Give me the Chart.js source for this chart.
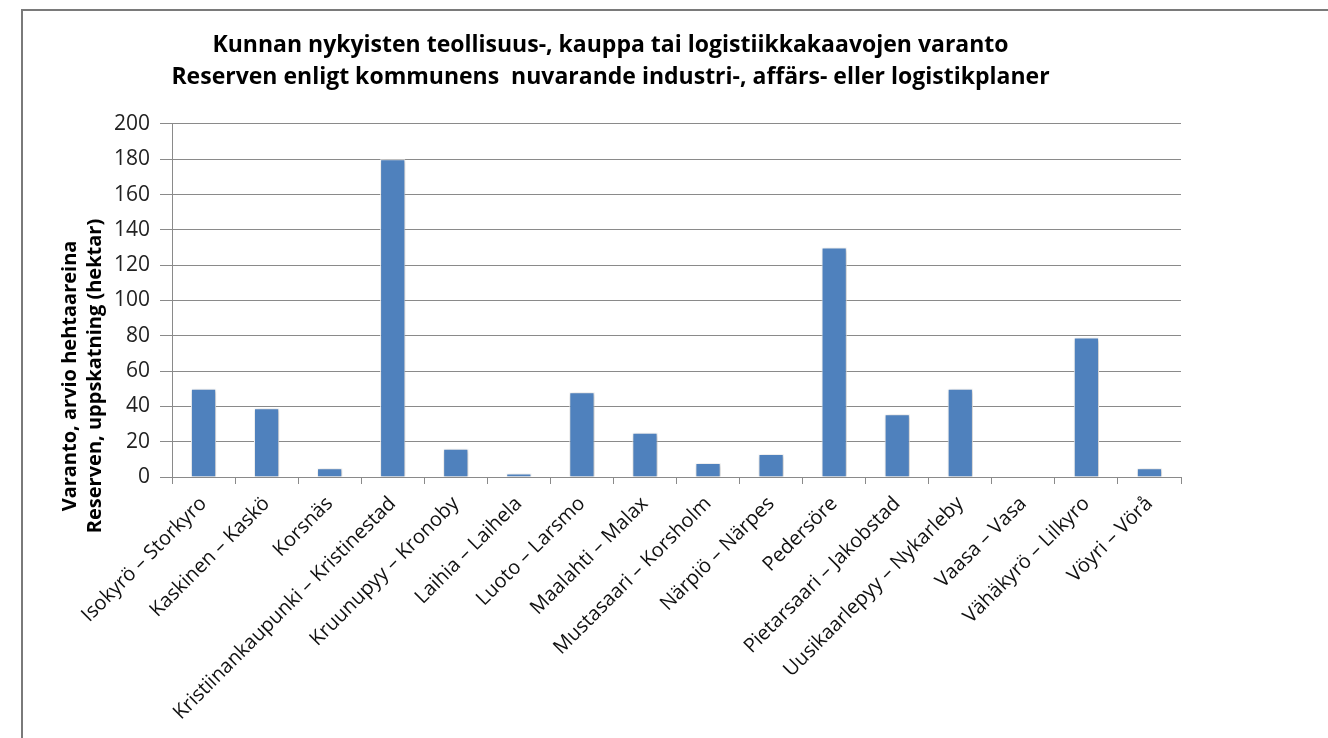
<!DOCTYPE html>
<html>
<head>
<meta charset="utf-8">
<script src="https://cdn.jsdelivr.net/npm/chart.js@4/dist/chart.umd.min.js"></script>
<style>
html,body{margin:0;padding:0;background:#fff;}
#wrap{position:absolute;left:0;top:0;width:1328px;height:738px;}
</style>
</head>
<body>
<div id="wrap"><canvas id="c" width="1328" height="738"></canvas></div>
<script>
const titleLines = [
  "Kunnan nykyisten teollisuus-, kauppa tai logistiikkakaavojen varanto",
  "Reserven enligt kommunens  nuvarande industri-, affärs- eller logistikplaner"
];
const yTitleLines = ["Varanto, arvio hehtaareina", "Reserven, uppskatning (hektar)"];
const categories = [
  "Isokyrö – Storkyro", "Kaskinen – Kaskö", "Korsnäs", "Kristiinankaupunki – Kristinestad",
  "Kruunupyy – Kronoby", "Laihia – Laihela", "Luoto – Larsmo", "Maalahti – Malax",
  "Mustasaari – Korsholm", "Närpiö – Närpes", "Pedersöre", "Pietarsaari – Jakobstad",
  "Uusikaarlepyy – Nykarleby", "Vaasa – Vasa", "Vähäkyrö – Lilkyro", "Vöyri – Vörå"
];
const reserveValues = [50, 39, 5, 180, 16, 2, 48, 25, 8, 13, 130, 35.5, 50, 0, 79, 5];
const yMin = 0, yMax = 200, yStep = 20;

const FONT = "'Open Sans', 'DejaVu Sans', sans-serif";

const framePlugin = {
  id: 'frame',
  beforeDraw(chart) {
    const ctx = chart.ctx;
    ctx.save();
    ctx.fillStyle = '#fff';
    ctx.fillRect(0, 0, chart.width, chart.height);
    ctx.strokeStyle = '#7a7a7a';
    ctx.lineWidth = 2;
    ctx.beginPath();
    ctx.moveTo(22, chart.height + 5);
    ctx.lineTo(22, 10);
    ctx.lineTo(chart.width + 5, 10);
    ctx.stroke();
    ctx.restore();
  }
};
const shadowPlugin = {
  id: 'barShadow',
  beforeDatasetsDraw(chart) {
    const ctx = chart.ctx;
    ctx.save();
    ctx.shadowColor = 'rgba(0,0,0,0.28)';
    ctx.shadowBlur = 4;
    ctx.shadowOffsetX = 1;
    ctx.shadowOffsetY = 1;
  },
  afterDatasetsDraw(chart) {
    chart.ctx.restore();
  }
};
// Y-axis title, placed like the original (centred lower than the plot area)
const yTitlePlugin = {
  id: 'yTitle',
  afterDraw(chart) {
    const ctx = chart.ctx;
    const lineH = 25;
    const firstX = chart.scales.y.left + 30;
    const centerY = chart.chartArea.bottom - 101;
    ctx.save();
    ctx.fillStyle = '#000';
    ctx.font = "bold 20px " + FONT;
    ctx.textAlign = 'center';
    ctx.textBaseline = 'middle';
    yTitleLines.forEach((line, i) => {
      ctx.save();
      ctx.translate(firstX + i * lineH, centerY);
      ctx.rotate(-Math.PI / 2);
      ctx.fillText(line, 0, 0);
      ctx.restore();
    });
    ctx.restore();
  }
};

new Chart(document.getElementById('c'), {
  type: 'bar',
  data: {
    labels: categories,
    datasets: [{
      data: reserveValues,
      backgroundColor: '#4F81BD',
      borderColor: '#ffffff',
      borderWidth: 1,
      barPercentage: 0.4,
      categoryPercentage: 1.0
    }]
  },
  plugins: [framePlugin, shadowPlugin, yTitlePlugin],
  options: {
    responsive: false,
    animation: false,
    devicePixelRatio: 1,
    layout: { padding: { left: 40, right: 147, top: 0, bottom: 0 } },
    plugins: {
      legend: { display: false },
      tooltip: { enabled: false },
      title: {
        display: true,
        text: titleLines,
        color: '#000',
        font: { family: FONT, size: 23, weight: 'bold', lineHeight: 1.39 },
        padding: { top: 29, bottom: 31 }
      }
    },
    scales: {
      y: {
        min: yMin, max: yMax,
        ticks: { stepSize: yStep, color: '#222', font: { family: FONT, size: 21 }, padding: 10 },
        grid: { color: '#8a8a8a', lineWidth: 1, tickLength: 12 },
        border: { color: '#8a8a8a', width: 1 },
        title: { display: false },
        afterFit(scale) { scale.width = 132; }
      },
      x: {
        grid: { drawOnChartArea: false, color: '#8a8a8a', tickLength: 7, offset: true },
        border: { color: '#8a8a8a', width: 1 },
        ticks: {
          autoSkip: false, minRotation: 45, maxRotation: 45,
          color: '#111', font: { family: FONT, size: 20 }, padding: 8
        },
        afterFit(scale) { scale.height = 261; }
      }
    }
  }
});
</script>
</body>
</html>
